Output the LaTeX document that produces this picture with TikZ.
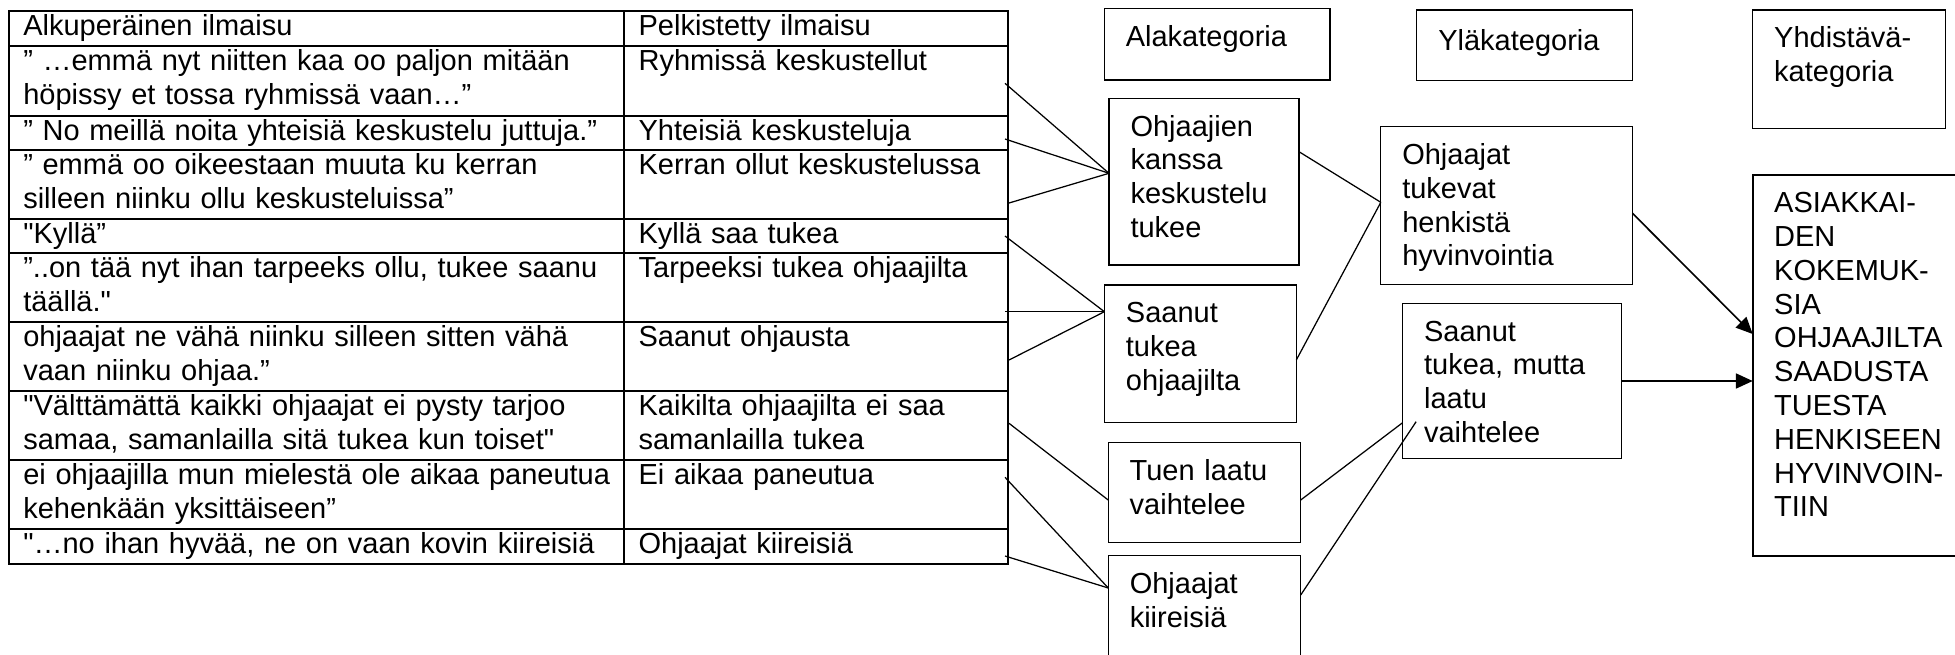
\documentclass[tikz,border=0pt]{standalone}
\usepackage{fontspec}
\setmainfont{Liberation Sans}
% plain family: keeps straight quotes as typed
\newfontfamily\bodyfont{Liberation Sans}
\usetikzlibrary{calc,arrows.meta}
\begin{document}
\begin{tikzpicture}[x=0.4pt,y=-0.4pt,
  grid/.style={line width=0.8pt},
  cell/.style={anchor=base west, inner sep=0pt, outer sep=0pt, align=left,
    text width=#1, font={\bodyfont\fontsize{11.6pt}{13.8pt}\selectfont}},
  catbox/.style={draw, line width=0.55pt, anchor=north west, outer sep=0pt,
    inner xsep=8.6pt, inner ysep=0pt, align=left, text height=15.08pt,
    font={\bodyfont\fontsize{11.6pt}{13.52pt}\selectfont}},
  link/.style={line width=0.5pt},
  arrowlink/.style={line width=0.65pt, -{Triangle[length=6.7pt,width=6pt]}}
]
\useasboundingbox (0,0) rectangle (1955,654);

% ---- table of expressions ----
\draw[grid] (9.3,11) rectangle (1007.7,564);
\foreach \y in {46,116,150,219,253,322,391,460,529}
  \draw[grid] (9.3,\y) -- (1007.7,\y);
\draw[grid] (623.6,11) -- (623.6,564);

\node[cell=250pt] (a0) at (23.3,35) {Alkuperäinen ilmaisu};
\node[cell=250pt] (a1) at (23.3,70) {” …emmä nyt niitten kaa oo paljon mitään\\höpissy et tossa ryhmissä vaan…”};
\node[cell=250pt] (a2) at (23.3,140) {” No meillä noita yhteisiä keskustelu juttuja.”};
\node[cell=250pt] (a3) at (23.3,174) {” emmä oo oikeestaan muuta ku kerran\\silleen niinku ollu keskusteluissa”};
\node[cell=250pt] (a4) at (23.3,243) {"Kyllä”};
\node[cell=250pt] (a5) at (23.3,277) {”..on tää nyt ihan tarpeeks ollu, tukee saanu\\täällä."};
\node[cell=250pt] (a6) at (23.3,346) {ohjaajat ne vähä niinku silleen sitten vähä\\vaan niinku ohjaa.”};
\node[cell=250pt] (a7) at (23.3,415) {"Välttämättä kaikki ohjaajat ei pysty tarjoo\\samaa, samanlailla sitä tukea kun toiset"};
\node[cell=250pt] (a8) at (23.3,484) {ei ohjaajilla mun mielestä ole aikaa paneutua\\kehenkään yksittäiseen”};
\node[cell=250pt] (a9) at (23.3,553) {"…no ihan hyvää, ne on vaan kovin kiireisiä};

\node[cell=145pt] (b0) at (638.6,35) {Pelkistetty ilmaisu};
\node[cell=145pt] (b1) at (638.6,70) {Ryhmissä keskustellut};
\node[cell=145pt] (b2) at (638.6,140) {Yhteisiä keskusteluja};
\node[cell=145pt] (b3) at (638.6,174) {Kerran ollut keskustelussa};
\node[cell=145pt] (b4) at (638.6,243) {Kyllä saa tukea};
\node[cell=145pt] (b5) at (638.6,277) {Tarpeeksi tukea ohjaajilta};
\node[cell=145pt] (b6) at (638.6,346) {Saanut ohjausta};
\node[cell=145pt] (b7) at (638.6,415) {Kaikilta ohjaajilta ei saa\\samanlailla tukea};
\node[cell=145pt] (b8) at (638.6,484) {Ei aikaa paneutua};
\node[cell=145pt] (b9) at (638.6,553) {Ohjaajat kiireisiä};

% ---- category boxes ----
\node[catbox, text width=73.08pt, text depth=13.6pt] (ala) at (1104.3,8.3) {Alakategoria};
\node[catbox, text width=69.16pt, text height=16pt, text depth=12.3pt] (yla) at (1416.8,10) {Yläkategoria};
\node[catbox, text width=59.8pt, text depth=32.24pt] (yhd) at (1752.7,10) {Yhdistävä-\\kategoria};

\node[catbox, text width=58.8pt, text depth=51.6pt] (ohj) at (1109,98.3) {Ohjaajien\\kanssa\\keskustelu\\tukee};
\node[catbox, text width=59.56pt, text depth=40pt] (saa) at (1104.4,285) {Saanut\\tukea\\ohjaajilta};
\node[catbox, text width=59.8pt, text depth=24.76pt] (tuen) at (1108.2,442.7) {Tuen laatu\\vaihtelee};
\node[catbox, text width=59.76pt, text depth=28.9pt] (kii) at (1108.3,555.7) {Ohjaajat\\kiireisiä};

\node[catbox, text width=83.48pt, text depth=47.96pt] (tuk) at (1380.8,126.7) {Ohjaajat\\tukevat\\henkistä\\hyvinvointia};
\node[catbox, text width=70.44pt, text depth=46.92pt] (mut) at (1402.6,303.3) {Saanut\\tukea, mutta\\laatu\\vaihtelee};

\node[catbox, line width=0.75pt, text width=75pt, text depth=137.2pt] (asi) at (1752.7,175)
  {ASIAKKAI-\\DEN\\KOKEMUK-\\SIA\\OHJAAJILTA\\SAADUSTA\\TUESTA\\HENKISEEN\\HYVINVOIN-\\TIIN};

% ---- connectors from the table ----
\coordinate (s1) at (1005,83.3);
\coordinate (s2) at (1005,139);
\coordinate (s3) at (1008,203.3);
\coordinate (s4) at (1005,236);
\coordinate (s5) at (1005,311.7);
\coordinate (s6) at (1009,360);
\coordinate (s7) at (1009,423.3);
\coordinate (s8) at (1005,477.3);
\coordinate (s9) at (1005,556);

\foreach \s in {s1,s2,s3}
  \draw[link] (\s) -- ($(ohj.north west)+(0,75)$);
\foreach \s in {s4,s5,s6}
  \draw[link] (\s) -- ($(saa.north west)+(0,26.7)$);
\draw[link] (s7) -- ($(tuen.north west)+(0,57.3)$);
\foreach \s in {s8,s9}
  \draw[link] (\s) -- ($(kii.north west)+(0,32.3)$);

% ---- connectors between categories ----
\draw[link] ($(ohj.north east)+(0,53.4)$) -- ($(tuk.north west)+(0,75.6)$);
\draw[link] ($(saa.north east)+(0,75)$) -- ($(tuk.north west)+(0,75.6)$);
\draw[link] ($(tuen.north east)+(0,57.3)$) -- ($(mut.north west)+(0,119.4)$);
\draw[link] ($(kii.north east)+(0,39.3)$) -- ($(mut.north west)+(13.5,118.4)$);

\draw[arrowlink] ($(tuk.north east)+(0,86.6)$) -- ($(asi.north west)+(0,159)$);
\draw[arrowlink] ($(mut.north east)+(0,77.7)$) -- ($(asi.north west)+(0,206)$);
\end{tikzpicture}
\end{document}
